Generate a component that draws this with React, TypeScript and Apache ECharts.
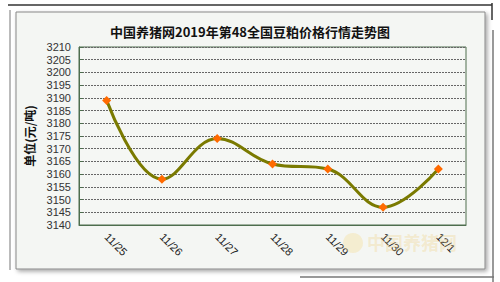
import React, { useEffect, useRef } from "react";
import * as echarts from "echarts";

const titleText = "中国养猪网2019年第48全国豆粕价格行情走势图";
const yAxisName = "单位(元/吨)";
const categories = ["11/25", "11/26", "11/27", "11/28", "11/29", "11/30", "12/1"];
const prices = [3189, 3158, 3174, 3164, 3162, 3147, 3162];
const watermark = "中国养猪网";

export default function App() {
  const ref = useRef<HTMLDivElement>(null);
  useEffect(() => {
    document.body.style.margin = "0";
    const chart = echarts.init(ref.current!, null, { renderer: "svg" });
    chart.setOption({
      animation: false,
      backgroundColor: "#ffffff",
      title: {
        text: titleText,
        left: "center",
        top: 20,
        textStyle: { fontFamily: "Noto Sans CJK SC", fontSize: 13, fontWeight: "bold", color: "#111" },
      },
      graphic: [
        { type: "line", shape: { x1: 8, y1: 5, x2: 492, y2: 5 }, style: { stroke: "#333", lineWidth: 1.5 }, z: -2 },
        { type: "line", shape: { x1: 492, y1: 3, x2: 492, y2: 20 }, style: { stroke: "#333", lineWidth: 1.5 }, z: -2 },
        { type: "line", shape: { x1: 493, y1: 30, x2: 493, y2: 282 }, style: { stroke: "#999", lineWidth: 2 }, z: -2 },
        { type: "line", shape: { x1: 300, y1: 277, x2: 494, y2: 277 }, style: { stroke: "#777", lineWidth: 1.5 }, z: -2 },
        { type: "line", shape: { x1: 10, y1: 10, x2: 10, y2: 270 }, style: { stroke: "#bbb", lineWidth: 2 }, z: -2 },
        {
          type: "rect",
          shape: { x: 16, y: 12, width: 469, height: 257 },
          style: { fill: "#f4f6f3", stroke: "#888", lineWidth: 1, shadowBlur: 4, shadowColor: "rgba(0,0,0,0.35)", shadowOffsetX: 2, shadowOffsetY: 2 },
          z: -1,
        },
        {
          type: "circle",
          shape: { cx: 353, cy: 243, r: 10 },
          style: { fill: "rgba(245,215,130,0.3)" },
          z: 10,
        },
        {
          type: "text",
          left: 367,
          top: 233,
          style: { text: watermark, fontFamily: "Noto Sans CJK SC", fontSize: 18, fontWeight: "bold", fill: "rgba(240,205,120,0.3)" },
          z: 10,
        },
      ],
      grid: {
        left: 79,
        right: 34,
        top: 47,
        bottom: 57,
        show: true,
        backgroundColor: "#f5f7f4",
        borderColor: "#4e6e4e",
        borderWidth: 1,
      },
      xAxis: {
        type: "category",
        data: categories,
        boundaryGap: true,
        axisLine: { lineStyle: { color: "#4e6e4e", width: 1 } },
        axisTick: { inside: true, length: 4, lineStyle: { color: "#4e6e4e" } },
        axisLabel: { rotate: -45, margin: 10, fontFamily: "Liberation Sans", fontSize: 11, color: "#222" },
      },
      yAxis: {
        type: "value",
        min: 3140,
        max: 3210,
        interval: 5,
        name: yAxisName,
        nameLocation: "middle",
        nameGap: 28,
        nameTextStyle: { fontFamily: "Noto Sans CJK SC", fontSize: 12, fontWeight: "bold", color: "#111" },
        axisLine: { show: true, lineStyle: { color: "#4e6e4e", width: 1 } },
        axisTick: { show: true, inside: true, length: 4, lineStyle: { color: "#4e6e4e" } },
        axisLabel: {
          margin: 8,
          fontFamily: "Liberation Sans",
          fontSize: 11,
          color: "#333",
          formatter: (v: number) => String(v),
        },
        splitLine: { show: true, lineStyle: { color: "#666", type: [2, 1], width: 1 } },
      },
      series: [
        {
          type: "line",
          data: prices,
          smooth: 0.4,
          symbol: "diamond",
          symbolSize: 9,
          lineStyle: { color: "#7a7a00", width: 3 },
          itemStyle: { color: "#ff6a00" },
        },
      ],
    });
    return () => chart.dispose();
  }, []);
  return <div ref={ref} style={{ width: 500, height: 282 }} />;
}
